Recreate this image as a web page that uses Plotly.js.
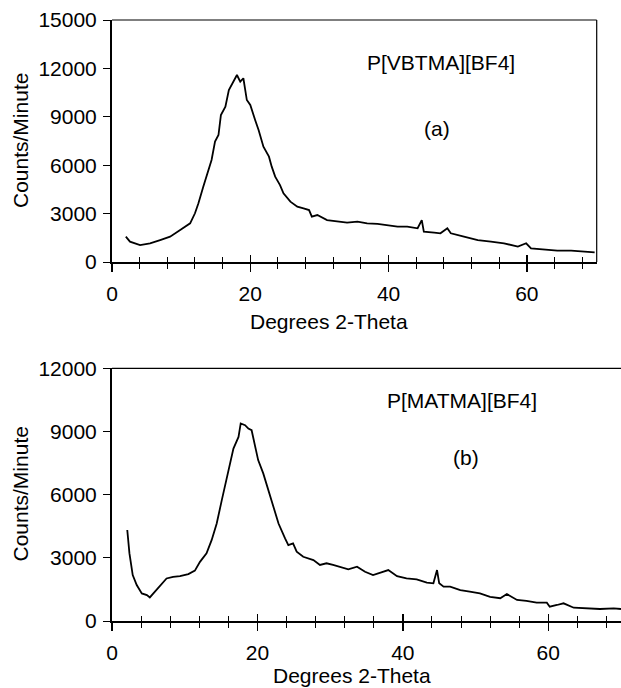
<!DOCTYPE html>
<html>
<head>
<meta charset="utf-8">
<script src="https://cdn.plot.ly/plotly-3.0.1.min.js"></script>
<style>html,body{margin:0;padding:0;background:#fff;}#chart{width:621px;height:688px;}</style>
</head>
<body>
<div id="chart"></div>
<script>
// Panel (a): P[VBTMA][BF4]
var xA = [2.0, 2.6, 4.06, 5.5, 6.96, 8.4, 9.86, 11.3, 12.0, 12.5, 13.2, 13.96, 14.4, 14.9, 15.4, 15.75, 16.4, 16.9, 17.3, 18.07, 18.55, 19.0, 19.5, 20.0, 20.7, 21.2, 21.9, 22.7, 23.1, 23.6, 24.3, 24.8, 25.8, 26.8, 27.7, 28.5, 28.9, 29.7, 31.1, 32.6, 34.0, 35.5, 36.9, 38.4, 39.8, 41.3, 42.7, 44.2, 44.8, 45.1, 46.6, 47.5, 48.5, 49.0, 50.9, 52.9, 54.8, 56.7, 58.7, 59.9, 60.6, 62.5, 64.4, 66.4, 68.3, 69.8];
var yA = [1570, 1260, 1050, 1160, 1360, 1570, 1980, 2400, 3020, 3640, 4670, 5700, 6320, 7460, 7870, 9110, 9630, 10660, 10970, 11590, 11180, 11390, 10040, 9730, 8800, 8180, 7150, 6530, 5910, 5290, 4770, 4260, 3740, 3430, 3330, 3220, 2810, 2910, 2600, 2500, 2440, 2500, 2400, 2360, 2290, 2190, 2190, 2090, 2600, 1880, 1820, 1780, 2090, 1780, 1570, 1360, 1260, 1160, 950, 1160, 850, 790, 700, 700, 640, 600];
// Panel (b): P[MATMA][BF4]
var xB = [2.1, 2.4, 2.85, 3.4, 4.1, 4.8, 5.2, 5.9, 6.6, 7.5, 8.4, 9.35, 10.5, 11.4, 12.1, 13.0, 13.7, 14.4, 15.1, 15.5, 16.2, 16.7, 17.4, 17.7, 18.3, 18.75, 19.2, 19.7, 20.1, 20.8, 21.5, 22.2, 22.9, 23.8, 24.25, 24.9, 25.4, 26.3, 27.7, 28.6, 29.5, 30.4, 31.4, 32.5, 33.7, 34.8, 35.9, 36.9, 38.0, 39.2, 40.5, 41.9, 43.3, 44.2, 44.7, 45.0, 45.6, 46.5, 47.9, 49.2, 50.6, 52.0, 53.4, 54.3, 55.7, 57.0, 58.4, 59.8, 60.2, 61.2, 62.1, 63.5, 65.3, 67.1, 69.0, 70.0];
var yB = [4320, 3210, 2180, 1710, 1310, 1230, 1120, 1390, 1630, 2020, 2100, 2130, 2230, 2390, 2810, 3210, 3840, 4630, 5740, 6370, 7320, 8190, 8740, 9380, 9300, 9140, 9060, 8270, 7640, 7010, 6210, 5420, 4630, 3920, 3600, 3690, 3290, 3050, 2890, 2660, 2740, 2660, 2550, 2450, 2580, 2340, 2180, 2290, 2420, 2130, 2020, 1980, 1820, 1790, 2420, 1790, 1630, 1630, 1470, 1390, 1310, 1150, 1080, 1280, 1000, 960, 870, 870, 680, 760, 840, 630, 600, 570, 600, 570];

var yTicksA = [0, 3000, 6000, 9000, 12000, 15000];
var yTicksB = [0, 3000, 6000, 9000, 12000];
var xTicks = [0, 20, 40, 60];
var xTitle = "Degrees 2-Theta";
var yTitle = "Counts/Minute";
var labelA = "P[VBTMA][BF4]", tagA = "(a)";
var labelB = "P[MATMA][BF4]", tagB = "(b)";

var FONT = "'Liberation Sans', Arial, sans-serif";
var FS = 21;

var traces = [
  {x: xA, y: yA, xaxis: 'x', yaxis: 'y', type: 'scatter', mode: 'lines',
   line: {color: '#000', width: 1.8}, hoverinfo: 'skip'},
  {x: xB, y: yB, xaxis: 'x2', yaxis: 'y2', type: 'scatter', mode: 'lines',
   line: {color: '#000', width: 1.8}, hoverinfo: 'skip'},
  // empty traces so the overlaid inner-tick axes are drawn
  {x: [], y: [], xaxis: 'x3', yaxis: 'y', type: 'scatter', mode: 'lines', hoverinfo: 'skip'},
  {x: [], y: [], xaxis: 'x4', yaxis: 'y2', type: 'scatter', mode: 'lines', hoverinfo: 'skip'}
];

function xOut(domain, range, anchor) {
  return {domain: domain, range: range, anchor: anchor, showgrid: false, zeroline: false,
    showline: true, linecolor: '#000', linewidth: 2,
    tickmode: 'array', tickvals: xTicks, ticktext: xTicks.map(String),
    ticks: 'outside', ticklen: 8, tickwidth: 1.5, tickcolor: '#000',
    minor: {tickmode: 'linear', tick0: 0, dtick: 4, ticks: 'outside', ticklen: 5, tickwidth: 1, tickcolor: '#000', showgrid: false},
    tickfont: {family: FONT, size: FS, color: '#000'}, ticklabelstandoff: 4, automargin: false};
}
function xIn(over, range, anchor) {
  return {overlaying: over, range: range, anchor: anchor, side: 'bottom', showgrid: false, zeroline: false,
    showline: false, showticklabels: false,
    tickmode: 'array', tickvals: xTicks,
    ticks: 'inside', ticklen: 7, tickwidth: 1.5, tickcolor: '#000',
    minor: {tickmode: 'linear', tick0: 0, dtick: 4, ticks: 'inside', ticklen: 5, tickwidth: 1, tickcolor: '#000', showgrid: false},
    automargin: false};
}
function yAx(domain, range, anchor, tv) {
  return {domain: domain, range: range, anchor: anchor, showgrid: false, zeroline: false,
    showline: true, linecolor: '#000', linewidth: 2,
    tickmode: 'array', tickvals: tv, ticktext: tv.map(String),
    ticks: 'outside', ticklen: 7, tickwidth: 1, tickcolor: '#000',
    tickfont: {family: FONT, size: FS, color: '#000'}, ticklabelstandoff: 2, automargin: false};
}

var H = 688, L = 112, PW = 621 - L;
function py(p) { return 1 - p / H; }
function px(p) { return (p - L) / PW; }

var xRangeA = [0, 70.1], xRangeB = [0, 70];
var layout = {
  width: 621, height: 688,
  margin: {l: L, r: 0, t: 0, b: 0, pad: 0},
  paper_bgcolor: '#fff', plot_bgcolor: '#fff',
  showlegend: false,
  font: {family: FONT, size: FS, color: '#000'},
  xaxis: xOut([0, px(596.7)], xRangeA, 'y'),
  yaxis: yAx([py(262), py(20)], [0, 15000], 'x', yTicksA),
  xaxis2: xOut([0, 1], xRangeB, 'y2'),
  yaxis2: yAx([py(621), py(368.3)], [0, 12000], 'x2', yTicksB),
  xaxis3: xIn('x', xRangeA, 'y'),
  xaxis4: xIn('x2', xRangeB, 'y2'),
  shapes: [
    {type: 'line', xref: 'x domain', yref: 'y domain', x0: 0, x1: 1, y0: 1, y1: 1, line: {color: '#000', width: 1.2}},
    {type: 'line', xref: 'x domain', yref: 'y domain', x0: 1, x1: 1, y0: 0, y1: 1, line: {color: '#000', width: 1.2}},
    {type: 'line', xref: 'x2 domain', yref: 'y2 domain', x0: 0, x1: 1, y0: 1, y1: 1, line: {color: '#000', width: 1.2}}
  ],
  annotations: [
    {text: labelA, xref: 'x', yref: 'y', x: 47.6, y: 12340, showarrow: false, xanchor: 'center', yanchor: 'middle', font: {family: FONT, size: FS}},
    {text: tagA, xref: 'x', yref: 'y', x: 47.0, y: 8250, showarrow: false, xanchor: 'center', yanchor: 'middle', font: {family: FONT, size: FS}},
    {text: labelB, xref: 'x2', yref: 'y2', x: 48.1, y: 10480, showarrow: false, xanchor: 'center', yanchor: 'middle', font: {family: FONT, size: FS}},
    {text: tagB, xref: 'x2', yref: 'y2', x: 48.7, y: 7755, showarrow: false, xanchor: 'center', yanchor: 'middle', font: {family: FONT, size: FS}},
    {text: xTitle, xref: 'paper', yref: 'paper', x: px(329), y: py(322), showarrow: false, xanchor: 'center', yanchor: 'middle', font: {family: FONT, size: FS}},
    {text: xTitle, xref: 'paper', yref: 'paper', x: px(352), y: py(675), showarrow: false, xanchor: 'center', yanchor: 'middle', font: {family: FONT, size: FS}},
    {text: yTitle, xref: 'paper', yref: 'paper', x: px(20), y: py(141), textangle: -90, showarrow: false, xanchor: 'center', yanchor: 'middle', font: {family: FONT, size: FS}},
    {text: yTitle, xref: 'paper', yref: 'paper', x: px(20), y: py(494.5), textangle: -90, showarrow: false, xanchor: 'center', yanchor: 'middle', font: {family: FONT, size: FS}}
  ]
};

Plotly.newPlot('chart', traces, layout, {staticPlot: true, displayModeBar: false});
</script>
</body>
</html>
